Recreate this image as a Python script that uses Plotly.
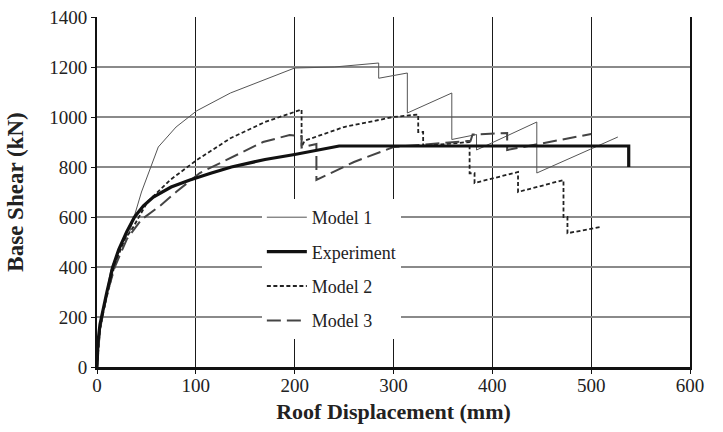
import plotly.graph_objects as go

# ---- data ----
exp_x = [0, 1, 3, 5, 10, 16, 22, 30, 38, 47, 57, 75, 94, 115, 136, 170, 200, 245, 538, 538]
exp_y = [0, 100, 170, 210, 300, 400, 470, 540, 600, 645, 680, 720, 748, 775, 800, 830, 850, 884, 884, 800]

m1_x = [0, 2, 6, 14, 24, 33, 45, 62, 80, 101, 135, 168, 200, 240, 285, 285, 314, 314, 359, 359, 384, 384, 445, 445, 527]
m1_y = [0, 110, 220, 390, 490, 540, 700, 880, 960, 1025, 1096, 1148, 1196, 1200, 1216, 1155, 1176, 1016, 1096, 910, 930, 868, 980, 776, 920]

m2_x = [0, 3, 8, 18, 28, 36, 51, 74, 101, 135, 170, 205, 207, 207, 210, 250, 300, 325, 325, 330, 330, 377, 377, 382, 382, 426, 426, 472, 472, 476, 476, 509]
m2_y = [0, 150, 250, 410, 510, 555, 660, 748, 828, 915, 980, 1028, 1030, 880, 905, 960, 1000, 1010, 940, 940, 885, 900, 775, 775, 736, 780, 700, 748, 600, 600, 535, 560]

m3_x = [0, 3, 10, 18, 30, 45, 64, 80, 104, 152, 168, 195, 207, 207, 222, 222, 260, 300, 330, 360, 378, 380, 415, 415, 500]
m3_y = [0, 150, 290, 400, 510, 590, 645, 700, 776, 868, 900, 928, 924, 878, 892, 748, 820, 880, 890, 900, 905, 930, 936, 868, 932]

x_ticks = [0, 100, 200, 300, 400, 500, 600]
y_ticks = [0, 200, 400, 600, 800, 1000, 1200, 1400]

FONT = "Liberation Serif"

fig = go.Figure()
fig.add_trace(go.Scatter(x=m1_x, y=m1_y, mode="lines", name="Model 1",
                         line=dict(color="#555555", width=1), legendgroup="a", legendrank=1))
fig.add_trace(go.Scatter(x=m2_x, y=m2_y, mode="lines", name="Model 2",
                         line=dict(color="#222222", width=1.8, dash="4px,2.5px"), legendgroup="c", legendrank=3))
fig.add_trace(go.Scatter(x=m3_x, y=m3_y, mode="lines", name="Model 3",
                         line=dict(color="#444444", width=2, dash="14px,6px"), legendgroup="d", legendrank=4))
fig.add_trace(go.Scatter(x=exp_x, y=exp_y, mode="lines", name="Experiment",
                         line=dict(color="#111111", width=3.2), legendgroup="b", legendrank=2))

fig.update_layout(
    width=723, height=432,
    margin=dict(l=97, r=33, t=17, b=65),
    paper_bgcolor="white", plot_bgcolor="white",
    font=dict(family=FONT, size=19, color="#222222"),
    showlegend=True,
    legend=dict(x=0.278, y=0.48, xanchor="left", yanchor="top",
                bgcolor="white", borderwidth=0, tracegroupgap=8,
                font=dict(family=FONT, size=18, color="#222222"),
                traceorder="grouped", itemwidth=40),
    xaxis=dict(range=[0, 600], tickvals=x_ticks, ticktext=[str(v) for v in x_ticks],
               showgrid=True, gridcolor="#1a1a1a", gridwidth=1.1,
               showline=True, linecolor="#111111", linewidth=2.5,
               ticks="outside", ticklen=4, tickcolor="#111111",
               zeroline=False, automargin=False, ticklabelstandoff=-5,
               tickfont=dict(family=FONT, size=19, color="#222222"),
               title=dict(text="<b>Roof Displacement (mm)</b>", font=dict(family=FONT, size=22), standoff=10)),
    yaxis=dict(range=[0, 1400], tickvals=y_ticks, ticktext=[str(v) for v in y_ticks],
               showgrid=True, gridcolor="#8a8a8a", gridwidth=1.5,
               showline=True, linecolor="#111111", linewidth=2, mirror=True,
               ticks="outside", ticklen=4, tickcolor="#111111",
               zeroline=False, automargin=False,
               tickfont=dict(family=FONT, size=19, color="#222222"),
               title=dict(text="<b>Base Shear (kN)</b>", font=dict(family=FONT, size=23), standoff=19)),
)

fig.write_html("out.html", config={"displayModeBar": False},
               post_script="document.body.style.margin='0';document.body.style.padding='0';")
